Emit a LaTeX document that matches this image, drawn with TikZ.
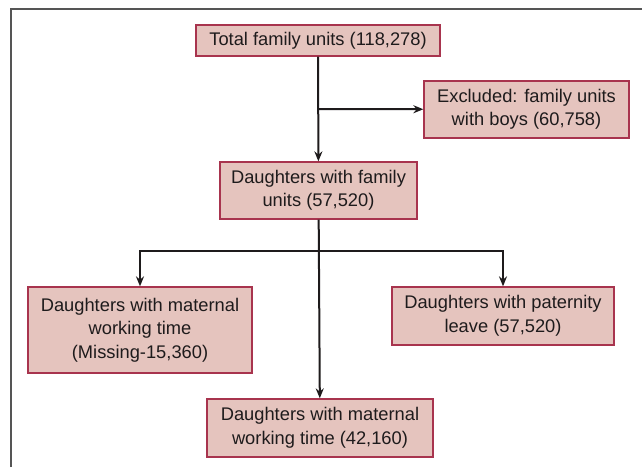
\documentclass[tikz,border=0pt]{standalone}
\usepackage{fontspec}
\setmainfont{Liberation Sans}
\usetikzlibrary{arrows.meta}
\definecolor{boxfill}{RGB}{229, 196, 190}
\definecolor{boxline}{RGB}{168, 52, 78}
\definecolor{ink}{RGB}{30, 27, 28}
\definecolor{frame}{RGB}{85, 85, 85}

\begin{document}
\begin{tikzpicture}[x = 1pt, y = -1pt, line width = 2pt,
  flowbox/.style = {draw = boxline, line width = 1.3pt, fill = boxfill, text = ink,
    align = center, font = \fontsize{18.3}{23.5}\selectfont, inner sep = 0pt},
  link/.style = {draw = ink, -{Stealth[length = 10pt, width = 8pt]}}]
\useasboundingbox (0,0) rectangle (642,467);
\draw[frame, line width = 2.2pt] (11,467) -- (11,9) -- (642,9);
\node[flowbox, minimum width = 244pt, minimum height = 31pt] (total) at (318,40.5) {Total family units (118,278)};
\node[flowbox, minimum width = 205pt, minimum height = 57pt] (excluded) at (526.5,109.5) {Excluded: family units\\with boys (60,758)};
\node[flowbox, minimum width = 197pt, minimum height = 57pt] (daughters) at (318.5,190.5) {Daughters with family\\units (57,520)};
\node[flowbox, minimum width = 224pt, minimum height = 86pt] (missing) at (140,330) {Daughters with maternal\\working time\\(Missing-15,360)};
\node[flowbox, minimum width = 222pt, minimum height = 58pt] (paternity) at (503,316) {Daughters with paternity\\leave (57,520)};
\node[flowbox, minimum width = 226pt, minimum height = 58pt] (maternal) at (320,428) {Daughters with maternal\\working time (42,160)};
\coordinate (split) at (318,109);
\coordinate (branch) at (318,251);
\draw[link] (total) -- (daughters);
\draw[link] (split) -- (excluded);
\draw[link] (daughters) -- (maternal);
\draw[link] (branch -| daughters) -| (missing);
\draw[link] (branch -| daughters) -| (paternity);
\end{tikzpicture}
\end{document}
